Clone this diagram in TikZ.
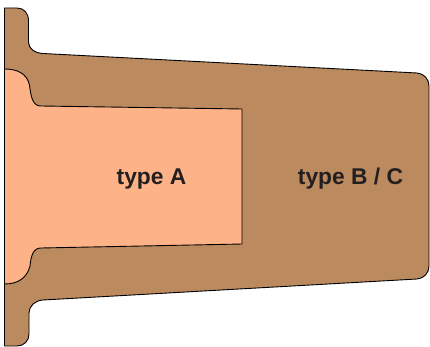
\documentclass[tikz,border=0pt]{standalone}
\usepackage{fontspec}
\setmainfont{Liberation Sans}
\definecolor{outerfill}{HTML}{BC8A5F}
\definecolor{innerfill}{HTML}{FDB287}
\definecolor{labeltext}{HTML}{231F20}
\tikzset{
  part/.style={draw=black,line width=0.9pt,line join=round},
  typelabel/.style={font=\fontsize{22.8}{24}\selectfont\bfseries,text=labeltext,inner sep=0pt,anchor=base}
}
\begin{document}
\begin{tikzpicture}[x=1pt,y=-1pt]
\useasboundingbox (0,0) rectangle (430,347);
\path[part,fill=outerfill]
  (4.5,8) -- (17,8)
  .. controls (24,8) and (28.5,13) .. (28.5,21)
  -- (28.5,42)
  .. controls (28.5,49) and (35,53) .. (43,53.5)
  -- (417,73)
  .. controls (424,73.5) and (429,79) .. (429,86)
  -- (429,266)
  .. controls (429,273) and (424,278.5) .. (417,279)
  -- (43,300)
  .. controls (35,300.5) and (29,306) .. (29,313)
  -- (29,334)
  .. controls (29,341) and (24,346) .. (17,346)
  -- (4.5,346) -- cycle;
\path[part,fill=innerfill]
  (4.5,69)
  .. controls (18,69) and (27,74) .. (29.5,85)
  .. controls (31,98) and (33,106) .. (41,106)
  -- (242,109) -- (242,244) -- (41,248)
  .. controls (33,248) and (31,256) .. (30,266)
  .. controls (27,278) and (18,284) .. (4.5,284)
  -- cycle;
\node[typelabel] (a) at (151.5,185) {type A};
\node[typelabel] (bc) at (350.5,185) {type B / C};
\end{tikzpicture}
\end{document}
